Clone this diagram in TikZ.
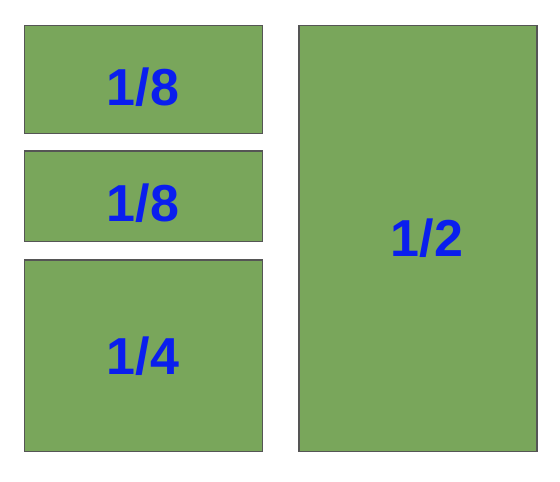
\documentclass[tikz,border=0pt]{standalone}
\usepackage{fontspec}
\setmainfont{Liberation Sans}
\definecolor{boxgreen}{HTML}{79A65B}
\definecolor{txtblue}{HTML}{0A1EEE}
\definecolor{edgegray}{HTML}{555555}
\begin{document}
\begin{tikzpicture}[x=1pt,y=-1pt,
  part/.style={fill=boxgreen,draw=edgegray,line width=1.2pt},
  lbl/.style={text=txtblue,font=\fontsize{52}{52}\selectfont\bfseries,inner sep=0pt}]
\useasboundingbox (0,0) rectangle (560,482);
\draw[part] (24.5,25.5) rectangle (262.5,133.5);
\draw[part] (24.5,151) rectangle (262.5,241.5);
\draw[part] (24.5,260) rectangle (262.5,451.5);
\draw[part] (299,25.5) rectangle (537,451.5);
\node[lbl] (a) at (143,87) {1/8};
\node[lbl] (b) at (143,203) {1/8};
\node[lbl] (c) at (143,356) {1/4};
\node[lbl] (d) at (427,238) {1/2};
\end{tikzpicture}
\end{document}
